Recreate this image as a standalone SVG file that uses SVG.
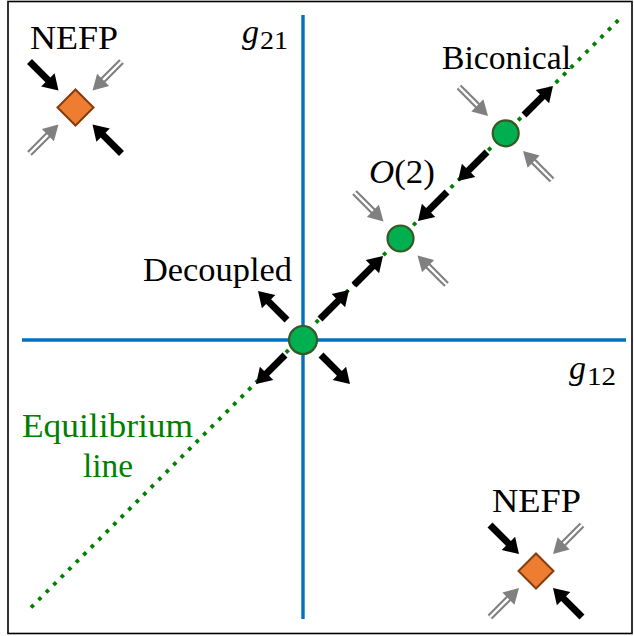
<svg xmlns="http://www.w3.org/2000/svg" xmlns:xlink="http://www.w3.org/1999/xlink" width="634" height="636" viewBox="0 0 634 636">
<style>
text{font-family:'Liberation Serif','Times New Roman',serif;font-size:34px;fill:#000}
.it{font-style:italic}
.sub{font-size:25px}
.green{fill:#008000}
.axis{stroke:#0070c0;stroke-width:3.4;fill:none}
.eq{stroke:#008000;stroke-width:3.8;stroke-dasharray:3.8 6.8;fill:none}
.fp{fill:#00b050;stroke:#385723;stroke-width:2.2}
.nefp{fill:#ed7d31;stroke:#843c0c;stroke-width:2}
</style>
<defs>
<g id="ba"><path d="M0,-3.5 H26 V-9.5 L41,0 L26,9.5 V3.5 H0 Z" fill="#000"/></g>
<g id="ga"><line x1="0" y1="0" x2="28" y2="0" stroke="#808080" stroke-width="6.6"/><line x1="0" y1="0" x2="28" y2="0" stroke="#fff" stroke-width="2.4"/><path d="M26,-8.5 L41,0 L26,8.5 Z" fill="#808080"/></g>
</defs>
<rect x="8" y="1.5" width="624" height="632" fill="#fff" stroke="#000" stroke-width="1.6"/>
<g id="axes">
<line class="axis" x1="303" y1="15" x2="303" y2="619"/>
<line class="axis" x1="22" y1="340" x2="626" y2="340"/>
<line class="eq" x1="31" y1="607.5" x2="619" y2="19.5"/>
<text class="it" x="242" y="43">g</text><text class="sub" x="260" y="49" textLength="28" lengthAdjust="spacingAndGlyphs">21</text>
<text class="it" x="569" y="379">g</text><text class="sub" x="587" y="385" textLength="29" lengthAdjust="spacingAndGlyphs">12</text>
<text class="green" x="22" y="437" textLength="171" lengthAdjust="spacingAndGlyphs">Equilibrium</text>
<text class="green" x="83" y="477" textLength="50" lengthAdjust="spacingAndGlyphs">line</text>
</g>
<g id="connectors">
<use xlink:href="#ba" transform="translate(29.5,61.5) rotate(45)"/>
<use xlink:href="#ba" transform="translate(121.5,153.5) rotate(-135)"/>
<use xlink:href="#ga" transform="translate(121.5,61.5) rotate(135)"/>
<use xlink:href="#ga" transform="translate(29.5,153.5) rotate(-45)"/>
<use xlink:href="#ba" transform="translate(490,525) rotate(45)"/>
<use xlink:href="#ba" transform="translate(582,617) rotate(-135)"/>
<use xlink:href="#ga" transform="translate(582,525) rotate(135)"/>
<use xlink:href="#ga" transform="translate(490,617) rotate(-45)"/>
<use xlink:href="#ba" transform="translate(287,320) rotate(-135)"/>
<use xlink:href="#ba" transform="translate(285,355) rotate(135)"/>
<use xlink:href="#ba" transform="translate(321,355) rotate(45)"/>
<use xlink:href="#ba" transform="translate(320,319) rotate(-45)"/>
<use xlink:href="#ba" transform="translate(354,285) rotate(-45)"/>
<use xlink:href="#ba" transform="translate(487,152) rotate(135)"/>
<use xlink:href="#ba" transform="translate(447,192) rotate(135)"/>
<use xlink:href="#ba" transform="translate(524,115) rotate(-45)"/>
<use xlink:href="#ga" transform="translate(354.5,192.5) rotate(45)"/>
<use xlink:href="#ga" transform="translate(446.5,284.5) rotate(-135)"/>
<use xlink:href="#ga" transform="translate(459,87) rotate(45)"/>
<use xlink:href="#ga" transform="translate(552,180) rotate(-135)"/>
</g>
<g id="nefp-top">
<path class="nefp" d="M75.5,89.5 L93.5,107.5 L75.5,125.5 L57.5,107.5 Z"/>
<text x="30" y="48.5" textLength="88" lengthAdjust="spacingAndGlyphs">NEFP</text>
</g>
<g id="nefp-bottom">
<path class="nefp" d="M536,553.5 L553.5,571 L536,588.5 L518.5,571 Z"/>
<text x="492" y="512" textLength="89" lengthAdjust="spacingAndGlyphs">NEFP</text>
</g>
<g id="decoupled">
<circle class="fp" cx="303" cy="340" r="14"/>
<text x="143" y="281" textLength="149" lengthAdjust="spacingAndGlyphs">Decoupled</text>
</g>
<g id="o2">
<circle class="fp" cx="400.5" cy="238.5" r="13"/>
<text x="369" y="183" textLength="66" lengthAdjust="spacingAndGlyphs"><tspan class="it">O</tspan>(2)</text>
</g>
<g id="biconical">
<circle class="fp" cx="505.7" cy="133.3" r="13"/>
<text x="442" y="69" textLength="129" lengthAdjust="spacingAndGlyphs">Biconical</text>
</g>
</svg>
